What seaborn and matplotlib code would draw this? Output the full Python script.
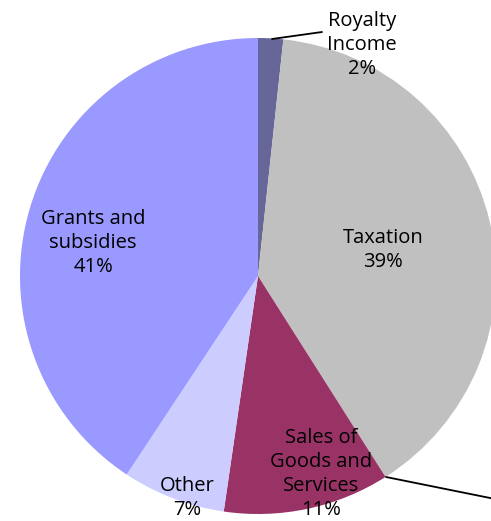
import matplotlib
matplotlib.use("Agg")
import matplotlib.pyplot as plt
import seaborn as sns

categories = ["Royalty\nIncome", "Taxation", "Sales of\nGoods and\nServices", "Other", "Grants and\nsubsidies"]
values = [1.7, 39.3, 11.3, 7.0, 40.7]
colors = ["#666699", "#C0C0C0", "#993366", "#CCCCFF", "#9999FF"]

sns.set_theme(style="white")
plt.rcParams['font.family'] = ['Open Sans', 'DejaVu Sans']

W, H = 491, 521
fig = plt.figure(figsize=(W / 100, H / 100), dpi=100)
cx, cy, r = 258, 276, 238
ax = fig.add_axes([(cx - r) / W, (H - cy - r) / H, 2 * r / W, 2 * r / H])

wedges, _ = ax.pie(values, colors=sns.color_palette(colors), startangle=90, counterclock=False,
                   radius=1, wedgeprops=dict(linewidth=0))
for w in wedges:
    w.set_clip_on(False)
ax.set_xlim(-1, 1)
ax.set_ylim(-1, 1)
ax.set_aspect("auto")
ax.axis("off")

def px(x, y):
    return ((x - cx) / r, (cy - y) / r)

label_pos = [px(362, 45), px(383, 250), px(321, 474), px(187, 498), px(93, 243)]
total = sum(values)
for cat, v, pos in zip(categories, values, label_pos):
    ax.text(pos[0], pos[1], f"{cat}\n{round(100 * v / total)}%", ha="center", va="center",
            fontsize=14.5, linespacing=1.25, color="black", clip_on=False)

for (a, b) in [((272, 39), (322, 32)), ((386, 477), (505, 501))]:
    p1, p2 = px(*a), px(*b)
    ax.plot([p1[0], p2[0]], [p1[1], p2[1]], color="black", lw=1.3, clip_on=False)

fig.savefig("out.png", dpi=100)
